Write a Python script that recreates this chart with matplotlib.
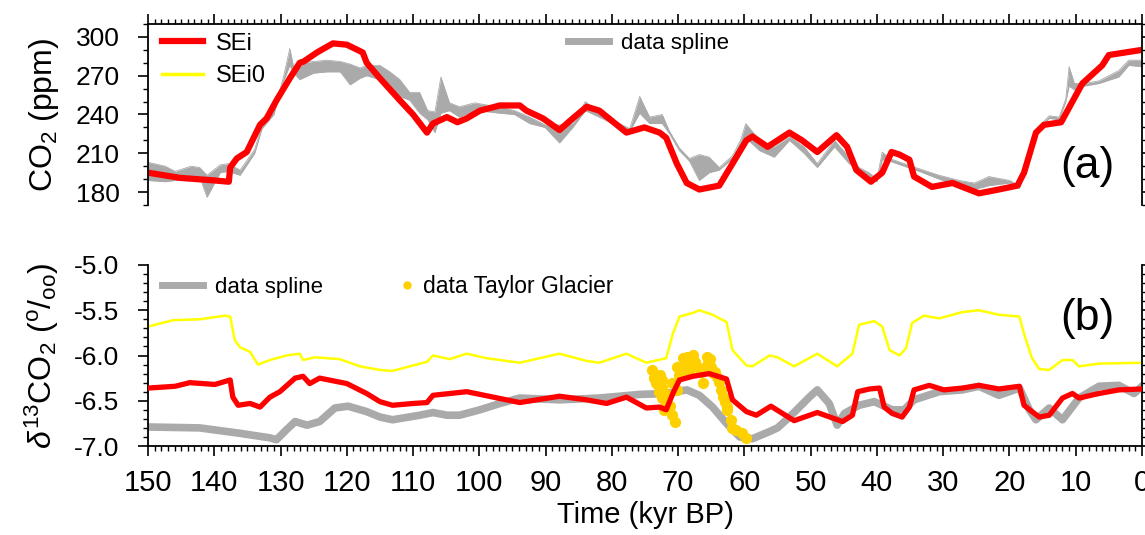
import matplotlib
matplotlib.use('Agg')
import matplotlib.pyplot as plt
from matplotlib.lines import Line2D
from matplotlib.ticker import MultipleLocator
import numpy as np

plt.rcParams['font.family'] = ['Liberation Sans', 'DejaVu Sans']
plt.rcParams['mathtext.fontset'] = 'custom'
plt.rcParams['mathtext.rm'] = 'Liberation Sans'
plt.rcParams['mathtext.it'] = 'Liberation Sans:italic'

# ---- panel (a): CO2 ----
# data spline band (lower / upper edge)
t_spl_a = [150, 147.4, 145.9, 143.5, 142.2, 141.1, 139.1, 137.9, 136.1, 133.9,
           132.8, 131, 129.6, 128.6, 128.0, 127.1, 125, 123, 121, 119.5,
           118, 117, 115, 113.5, 112, 110.5, 109, 107.8, 106.7, 105.8,
           104.5, 103, 100.7, 98.5, 96.9, 94.7, 92.4, 90.1, 87.9, 85.9,
           84.0, 81.9, 78.8, 77.3, 75.8, 74.3, 72.4, 71.3, 69.8, 68.3,
           66.8, 65.3, 63.8, 61.8, 60.5, 59.8, 57.7, 55.5, 53.2, 51.0,
           49.0, 46.4, 44.2, 42.7, 41.2, 40.0, 39.2, 38.1, 35.9, 33.6,
           30.6, 27.6, 25.3, 23.1, 20.0, 18.5, 17.0, 15.5, 14.0, 12.5,
           11.5, 11.0, 10.2, 8.7, 6.5, 3.5, 2.0, 0]
co2_spl_lo = [189, 188, 189, 190, 192, 176, 195, 196, 193, 210,
              229, 240, 265, 278, 272, 267, 272, 273, 273, 263,
              268, 270, 267, 261, 254, 251, 241, 236, 226, 241,
              243, 238, 243, 242, 241, 240, 233, 230, 218, 230,
              243, 238, 230, 227, 241, 233, 233, 225, 212, 204,
              189, 195, 197, 206, 218, 222, 212, 207, 220, 210,
              199, 215, 202, 197, 192, 188, 205, 204, 200, 196,
              190, 184, 182, 185, 187, 183, 204, 229, 237, 236,
              250, 262, 259, 262, 264, 269, 278, 277]
co2_spl_hi = [203, 200, 196, 200, 199, 193, 201, 202, 197, 213,
              231, 243, 268, 291, 276, 280, 281, 282, 281, 279,
              276, 278, 278, 273, 267, 257, 257, 243, 242, 269,
              249, 246, 249, 247, 246, 243, 238, 232, 232, 233,
              250, 241, 233, 229, 254, 238, 240, 227, 214, 206,
              209, 207, 199, 208, 221, 233, 220, 215, 223, 215,
              202, 220, 207, 199, 195, 190, 211, 206, 202, 198,
              193, 189, 187, 192, 189, 185, 206, 231, 239, 238,
              252, 277, 264, 264, 266, 274, 282, 282]

# SEi model
t_sei_a = [150, 145.2, 140, 137.8, 137.6, 136.6, 135.1, 133.1, 132.1, 130.6,
           128.6, 127.1, 126.5, 124.5, 122.1, 120, 117.6, 117.0, 115, 112,
           110, 107.9, 107, 104.9, 103.3, 101.9, 99.9, 96.9, 93.9, 92.9,
           90.4, 87.9, 85.9, 83.8, 81.9, 77.8, 75.1, 72.8, 71.8, 70.2,
           68.7, 66.8, 63.8, 61.8, 59.7, 58.8, 56.5, 53.2, 51.3, 49.0,
           46.1, 44.5, 43.1, 40.9, 39.2, 37.8, 36.6, 35.1, 34.4, 31.7,
           28.6, 24.6, 21.6, 18.8, 17.8, 16.0, 14.8, 12.2, 10.5, 9.0,
           6.0, 5.0, 0]
co2_sei = [195, 191, 189, 188, 199, 206, 211, 232, 237, 251,
           268, 280, 281, 288, 295, 294, 288, 280, 268, 251,
           240, 226, 233, 238, 234, 237, 243, 247, 247, 243,
           237, 228, 237, 246, 243, 226, 230, 226, 222, 202,
           187, 182, 185, 202, 220, 223, 215, 226, 220, 211,
           224, 215, 197, 188, 195, 211, 209, 205, 192, 184,
           187, 179, 182, 185, 195, 226, 232, 234, 250, 264,
           278, 286, 290]

# ---- panel (b): d13CO2 ----
t_sei0_b = [150, 146.2, 142.2, 138.4, 137.6, 136.9, 136.1, 134.6, 133.4, 131.6,
            129.1, 127.1, 126.6, 124.8, 121.1, 118.0, 115.0, 113.1, 110.0, 107.9,
            107.0, 104.5, 101.9, 98.9, 93.9, 87.9, 83.8, 81.9, 77.8, 74.8,
            71.8, 70.8, 69.8, 67.8, 66.8, 64.8, 62.7, 61.8, 59.7, 58.8,
            56.2, 55.0, 52.5, 49.0, 46.0, 43.7, 42.7, 40.4, 39.2, 38.1,
            36.6, 35.6, 34.7, 32.9, 30.6, 27.1, 24.6, 21.6, 18.5, 17.8,
            16.6, 15.5, 14.0, 12.0, 10.5, 9.5, 6.5, 0]
d13_sei0 = [-5.68, -5.61, -5.60, -5.56, -5.57, -5.83, -5.91, -5.96, -6.10, -6.05,
            -6.00, -5.98, -6.05, -6.02, -6.04, -6.12, -6.16, -6.17, -6.11, -6.07,
            -6.00, -6.04, -5.98, -6.03, -6.08, -5.98, -6.06, -6.08, -5.98, -6.08,
            -6.03, -5.76, -5.57, -5.53, -5.50, -5.55, -5.63, -5.94, -6.11, -6.12,
            -6.00, -6.02, -6.12, -5.98, -6.12, -5.98, -5.66, -5.62, -5.68, -5.94,
            -6.00, -5.92, -5.64, -5.56, -5.59, -5.52, -5.50, -5.55, -5.57, -5.76,
            -6.03, -6.15, -6.16, -6.05, -6.05, -6.12, -6.09, -6.08]

t_sei_b = [150, 145.9, 143.7, 139.9, 137.6, 137.2, 136.4, 134.6, 133.1, 131.6,
           130.1, 127.8, 126.6, 125.6, 124.1, 120.0, 117.0, 115.0, 113.1, 110.0,
           107.9, 107.0, 101.9, 99.9, 93.9, 87.9, 83.8, 80.8, 77.8, 74.8,
           72.8, 71.8, 70.8, 69.8, 67.8, 65.3, 62.7, 61.8, 59.7, 58.2,
           56.0, 52.5, 49.0, 45.2, 43.7, 42.9, 41.1, 39.6, 38.9, 37.7,
           36.2, 35.1, 34.4, 32.1, 29.9, 27.1, 24.6, 21.6, 18.5, 17.8,
           16.6, 15.5, 14.0, 12.0, 10.5, 9.5, 6.5, 3.5, 0]
d13_sei = [-6.36, -6.34, -6.30, -6.32, -6.27, -6.46, -6.55, -6.53, -6.57, -6.46,
           -6.40, -6.25, -6.23, -6.31, -6.25, -6.31, -6.42, -6.51, -6.55, -6.53,
           -6.52, -6.44, -6.40, -6.43, -6.52, -6.45, -6.49, -6.53, -6.46, -6.58,
           -6.57, -6.60, -6.42, -6.27, -6.23, -6.20, -6.26, -6.49, -6.62, -6.66,
           -6.56, -6.72, -6.63, -6.73, -6.66, -6.40, -6.37, -6.36, -6.57, -6.64,
           -6.68, -6.57, -6.38, -6.33, -6.38, -6.36, -6.33, -6.37, -6.34, -6.55,
           -6.62, -6.68, -6.66, -6.47, -6.42, -6.47, -6.42, -6.38, -6.37]

t_spl_b = [150, 142.2, 136.1, 131.6, 130.6, 129.1, 127.8, 126.0, 124.1, 121.8,
           119.8, 117.0, 115.0, 113.1, 109.0, 107.0, 104.9, 103.0, 99.9, 96.9,
           93.9, 87.9, 81.9, 75.8, 71.8, 68.7, 66.8, 64.8, 62.7, 60.7,
           58.8, 56.2, 55.0, 53.2, 50.2, 49.0, 47.2, 46.0, 44.9, 42.7,
           40.4, 37.7, 35.9, 34.4, 30.6, 27.1, 24.6, 21.6, 18.5, 17.0,
           16.0, 14.0, 12.0, 9.5, 6.5, 3.5, 1.2, 0]
d13_spl = [-6.79, -6.80, -6.86, -6.91, -6.93, -6.82, -6.73, -6.77, -6.73, -6.58,
           -6.56, -6.62, -6.68, -6.71, -6.66, -6.63, -6.66, -6.66, -6.60, -6.53,
           -6.47, -6.49, -6.47, -6.43, -6.42, -6.38, -6.44, -6.57, -6.75, -6.90,
           -6.92, -6.84, -6.80, -6.68, -6.46, -6.38, -6.53, -6.77, -6.64, -6.55,
           -6.51, -6.60, -6.60, -6.49, -6.40, -6.38, -6.34, -6.44, -6.36, -6.60,
           -6.71, -6.58, -6.71, -6.47, -6.34, -6.33, -6.42, -6.34]

# Taylor Glacier measurements
t_tg = [74.0, 73.6, 72.8, 72.4, 73.3, 72.5, 72.1, 72.4, 71.8, 72.1,
        70.9, 70.5, 71.0, 70.2, 70.1, 69.8, 69.3, 69.0, 68.7, 68.3,
        67.8, 67.5, 67.1, 66.5, 65.6, 65.7, 65.0, 64.5, 64.2, 63.8,
        63.5, 63.3, 63.0, 62.6, 62.0, 61.8, 61.2, 60.4, 59.7, 66.3,
        64.8, 62.7, 71.5, 73.0, 68.0, 65.2, 71.3, 72.9]
d13_tg = [-6.16, -6.25, -6.22, -6.27, -6.30, -6.36, -6.41, -6.47, -6.52, -6.60,
          -6.66, -6.73, -6.30, -6.38, -6.13, -6.22, -6.03, -6.13, -6.02, -6.18,
          -5.99, -6.07, -6.13, -6.18, -6.02, -6.11, -6.13, -6.18, -6.24, -6.29,
          -6.38, -6.46, -6.51, -6.60, -6.71, -6.80, -6.82, -6.86, -6.91, -6.30,
          -6.19, -6.57, -6.44, -6.33, -6.08, -6.04, -6.56, -6.40]

RED = '#ff0000'
YEL = '#ffff00'
GRAY = '#aaaaaa'
GOLD = '#ffd000'

W, H = 1145, 535
fig = plt.figure(figsize=(W / 100, H / 100), dpi=100)
axa = fig.add_axes([148/W, 1-205/H, 994/W, 181/H])
axb = fig.add_axes([148/W, 1-446/H, 994/W, 181/H])


def fig_pt(px, py):
    # pixel position -> figure fraction
    return (px / W, 1 - py / H)


# (a)
axa.fill_between(t_spl_a, co2_spl_lo, co2_spl_hi, color=GRAY, lw=0)
axa.plot(t_spl_a, co2_spl_lo, color=GRAY, lw=0.6)
axa.plot(t_spl_a, co2_spl_hi, color=GRAY, lw=0.6)
axa.plot(t_sei_a, co2_sei, color=RED, lw=4.5, solid_joinstyle='round')
axa.set_xlim(150, 0)
axa.set_ylim(170, 310)
axa.set_yticks([180, 210, 240, 270, 300])
axa.yaxis.set_minor_locator(MultipleLocator(10))
axa.xaxis.set_major_locator(MultipleLocator(10))
axa.xaxis.set_minor_locator(MultipleLocator(1))
axa.spines['bottom'].set_visible(False)
axa.tick_params(axis='x', which='both', bottom=False, labelbottom=False,
                top=True, direction='out')
axa.tick_params(axis='y', which='both', left=True, right=True, direction='out')
axa.set_ylabel('CO$_2$ (ppm)', fontsize=23)
axa.yaxis.set_label_coords(-0.088, 0.5)
axa.text(0.945, 0.21, '(a)', transform=axa.transAxes, fontsize=32,
         ha='center', va='center')

h1 = Line2D([], [], color=RED, lw=4.5)
h2 = Line2D([], [], color=YEL, lw=2.5)
leg1 = axa.legend([h1, h2], ['SEi', 'SEi0'], loc='center left',
                  bbox_to_anchor=fig_pt(162, 60), bbox_transform=fig.transFigure,
                  frameon=False, fontsize=17, handlelength=1.75,
                  handletextpad=0.55, borderpad=0, borderaxespad=0,
                  labelspacing=0.45)
axa.add_artist(leg1)
h3 = Line2D([], [], color=GRAY, lw=5)
axa.legend([h3], ['data spline'], loc='center left',
           bbox_to_anchor=fig_pt(568, 43), bbox_transform=fig.transFigure,
           frameon=False, fontsize=16, handlelength=1.85, handletextpad=0.55,
           borderpad=0, borderaxespad=0)

# (b)
axb.plot(t_spl_b, d13_spl, color=GRAY, lw=5.5, solid_joinstyle='round')
axb.plot(t_sei0_b, d13_sei0, color=YEL, lw=1.8)
axb.scatter(t_tg, d13_tg, s=65, color=GOLD, zorder=3, linewidths=0)
axb.plot(t_sei_b, d13_sei, color=RED, lw=3.8, solid_joinstyle='round', zorder=4)
axb.set_xlim(150, 0)
axb.set_ylim(-7.0, -5.0)
axb.set_yticks([-7.0, -6.5, -6.0, -5.5, -5.0])
axb.set_yticklabels(['-7.0', '-6.5', '-6.0', '-5.5', '-5.0'])
axb.yaxis.set_minor_locator(MultipleLocator(0.1))
axb.xaxis.set_major_locator(MultipleLocator(10))
axb.xaxis.set_minor_locator(MultipleLocator(1))
axb.spines['top'].set_visible(False)
axb.tick_params(axis='x', which='both', top=False, direction='out')
axb.tick_params(axis='y', which='both', left=True, right=True, direction='out')
axb.set_ylabel(r'$\delta^{13}$CO$_2$ ($^{\rm o}$/$_{\rm oo}$)', fontsize=23)
axb.yaxis.set_label_coords(-0.088, 0.5)
axb.set_xlabel('Time (kyr BP)', fontsize=21, labelpad=3)
axb.text(0.945, 0.707, '(b)', transform=axb.transAxes, fontsize=32,
         ha='center', va='center')

h4 = Line2D([], [], color=GRAY, lw=5)
leg2 = axb.legend([h4], ['data spline'], loc='center left',
                  bbox_to_anchor=fig_pt(162, 287), bbox_transform=fig.transFigure,
                  frameon=False, fontsize=16, handlelength=1.85,
                  handletextpad=0.55, borderpad=0, borderaxespad=0)
axb.add_artist(leg2)
h5 = Line2D([], [], color=GOLD, marker='o', ls='none', markersize=6,
            markeredgewidth=0)
axb.legend([h5], ['data Taylor Glacier'], loc='center left',
           bbox_to_anchor=fig_pt(398, 287), bbox_transform=fig.transFigure,
           frameon=False, fontsize=16.5, handlelength=0.8, handletextpad=0.3,
           borderpad=0, borderaxespad=0)

for ax in (axa, axb):
    for s in ax.spines.values():
        s.set_linewidth(1.3)
    ax.tick_params(which='major', length=7.5, width=1.2, labelsize=19, pad=13)
    ax.tick_params(which='minor', length=3.8, width=1.0)
axb.tick_params(axis='x', which='major', labelsize=21, pad=9)

fig.savefig('out.png', dpi=100)
